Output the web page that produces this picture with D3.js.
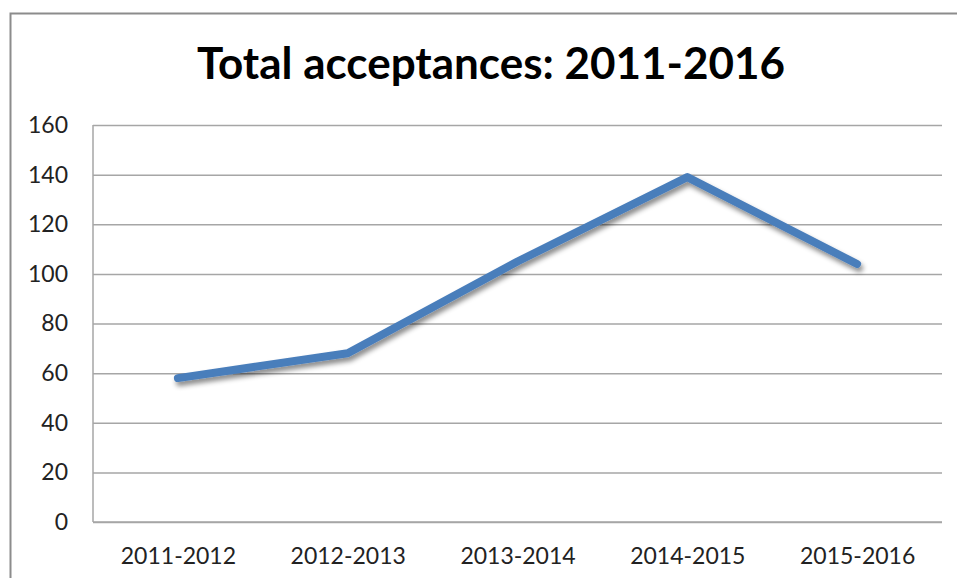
<!DOCTYPE html>
<html>
<head>
<meta charset="utf-8">
<script src="https://cdn.jsdelivr.net/npm/d3@7"></script>
<style>
  html, body { margin: 0; padding: 0; background: #fff; }
  svg { display: block; }
</style>
</head>
<body>
<svg id="chart" width="957" height="578"></svg>
<script>
// Academic years and total acceptances per year
const years = ["2011-2012", "2012-2013", "2013-2014", "2014-2015", "2015-2016"];
const acceptances = [58, 68, 105, 139, 104];
const yTicks = [0, 20, 40, 60, 80, 100, 120, 140, 160];
const title = "Total acceptances: 2011-2016";

const W = 957, H = 578;
const plot = { left: 93, right: 942, top: 125, bottom: 522 };
const font = "Lato, 'Open Sans', sans-serif";

const svg = d3.select("#chart");

// Drop shadow for the series line
const defs = svg.append("defs");
const f = defs.append("filter").attr("id", "shadow")
  .attr("x", "-10%").attr("y", "-10%").attr("width", "120%").attr("height", "130%");
f.append("feDropShadow")
  .attr("dx", 2).attr("dy", 4).attr("stdDeviation", 2.5)
  .attr("flood-color", "#000").attr("flood-opacity", 0.45);

// Chart frame
svg.append("path")
  .attr("d", `M10.5,${H} L10.5,13.5 L${W},13.5`)
  .attr("fill", "none").attr("stroke", "#8c8c8c").attr("stroke-width", 2);

// Title
svg.append("text")
  .attr("x", 491).attr("y", 79)
  .attr("text-anchor", "middle")
  .attr("font-family", font).attr("font-weight", "bold")
  .attr("font-size", 44).attr("fill", "#000")
  .text(title);

const x = d3.scalePoint().domain(years).range([plot.left, plot.right]).padding(0.5);
const y = d3.scaleLinear().domain([0, 160]).range([plot.bottom, plot.top]);

// Horizontal gridlines + y labels
const yAxis = d3.axisLeft(y).tickValues(yTicks).tickSize(-(plot.right - plot.left)).tickPadding(25);
const gy = svg.append("g").attr("transform", `translate(${plot.left},0)`).call(yAxis);
gy.select(".domain").remove();
gy.selectAll(".tick line").attr("stroke", "#a6a6a6").attr("stroke-width", 1.5);
gy.selectAll(".tick text")
  .attr("font-family", font).attr("font-size", 23).attr("fill", "#222");

// Left axis line
svg.append("line")
  .attr("x1", plot.left).attr("x2", plot.left)
  .attr("y1", plot.top).attr("y2", plot.bottom)
  .attr("stroke", "#a6a6a6").attr("stroke-width", 1.5);

// Category axis
const xAxis = d3.axisBottom(x).tickSize(0).tickPadding(26);
const gx = svg.append("g").attr("transform", `translate(0,${plot.bottom})`).call(xAxis);
gx.select(".domain").remove();
gx.selectAll(".tick text")
  .attr("font-family", font).attr("font-size", 23).attr("fill", "#222");
svg.append("line")
  .attr("x1", plot.left).attr("x2", plot.right)
  .attr("y1", plot.bottom).attr("y2", plot.bottom)
  .attr("stroke", "#a6a6a6").attr("stroke-width", 1.5);

// Series line
const line = d3.line().x((d, i) => x(years[i])).y(d => y(d));
svg.append("path")
  .datum(acceptances)
  .attr("d", line)
  .attr("fill", "none")
  .attr("stroke", "#4a7ebb")
  .attr("stroke-width", 8)
  .attr("stroke-linecap", "round")
  .attr("stroke-linejoin", "round")
  .attr("filter", "url(#shadow)");
</script>
</body>
</html>
